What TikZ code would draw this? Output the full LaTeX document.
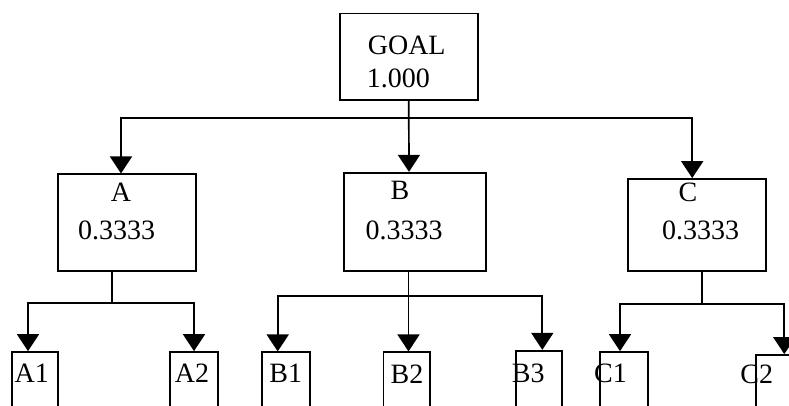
\documentclass[tikz,border=0pt]{standalone}
\usepackage{fontspec}
\setmainfont{Liberation Serif}
\usetikzlibrary{arrows.meta}
\begin{document}
\begin{tikzpicture}[x=1pt,y=-1pt,
  box/.style={draw,line width=1.7pt,inner sep=0pt,rectangle},
  lbl/.style={inner sep=0pt,font=\fontsize{28}{28}\selectfont},
  conn/.style={line width=1.7pt},
  arr/.style={line width=1.7pt,-{Triangle[width=22pt,length=17pt]}}]
\useasboundingbox (0,0) rectangle (789,405);
\clip (0,0) rectangle (789,405);
% boxes
\node[box,minimum width=137.7pt,minimum height=86.7pt] (goal) at (408.8,56.7) {};
\node[box,minimum width=138.3pt,minimum height=96.4pt] (a) at (126.8,222.5) {};
\node[box,minimum width=142pt,minimum height=98pt] (b) at (415,221.7) {};
\node[box,minimum width=138pt,minimum height=91.7pt] (c) at (696.7,224.8) {};
\node[box,minimum width=46.3pt,minimum height=78pt] (a1) at (34.9,391) {};
\node[box,minimum width=48pt,minimum height=78pt] (a2) at (194,391) {};
\node[box,minimum width=48.3pt,minimum height=78pt] (b1) at (285.9,391.3) {};
\node[box,minimum width=46.7pt,minimum height=78pt] (b2) at (406.7,391.3) {};
\node[box,minimum width=46pt,minimum height=80pt] (b3) at (539,390.7) {};
\node[box,minimum width=47.7pt,minimum height=78pt] (c1) at (623.8,391) {};
\node[box,minimum width=48pt,minimum height=76pt] (c2) at (779.7,393) {};
% texts
\node[lbl] (tgoal) at (406.7,45) {GOAL};
\node[lbl] (tgoalv) at (398.3,78) {1.000};
\node[lbl] (ta) at (121,192) {A};
\node[lbl] (tav) at (116.7,230) {0.3333};
\node[lbl] (tb) at (400,190) {B};
\node[lbl] (tbv) at (404,230) {0.3333};
\node[lbl] (tc) at (688,192) {C};
\node[lbl] (tcv) at (700.5,230) {0.3333};
\node[lbl] (ta1) at (31.7,373) {A1};
\node[lbl] (ta2) at (192,373) {A2};
\node[lbl] (tb1) at (285.8,373) {B1};
\node[lbl] (tb2) at (407,374) {B2};
\node[lbl] (tb3) at (528.3,373) {B3};
\node[lbl] (tc1) at (610.5,373) {C1};
\node[lbl] (tc2) at (756.7,374) {C2};
% junctions
\coordinate (gj) at (408.8,118);
\coordinate (aj) at (111.7,302.7);
\coordinate (bj) at (408.5,296);
\coordinate (cj) at (701.7,304);
% goal -> A,B,C
\draw[arr] (goal.south) -- (gj) -- ([xshift=-6pt]b.north);
\draw[arr] (gj) -| ([xshift=-5.8pt]a.north);
\draw[arr] (gj) -| ([xshift=-4.5pt]c.north);
% A -> A1,A2
\draw[conn] ([xshift=-15.1pt]a.south) -- (aj);
\draw[arr] (aj) -| ([xshift=-6.9pt]a1.north);
\draw[arr] (aj) -| (a2.north);
% B -> B1,B2,B3
\draw[arr] ([xshift=-6.5pt]b.south) -- (bj) -- ([xshift=1.8pt]b2.north);
\draw[arr] (bj) -| ([xshift=-8.2pt]b1.north);
\draw[arr] (bj) -| ([xshift=3.3pt]b3.north);
% C -> C1,C2
\draw[conn] ([xshift=5pt]c.south) -- (cj);
\draw[arr] (cj) -| ([xshift=-3.8pt]c1.north);
\draw[arr] (cj) -| ([xshift=4.6pt]c2.north);
\end{tikzpicture}
\end{document}
